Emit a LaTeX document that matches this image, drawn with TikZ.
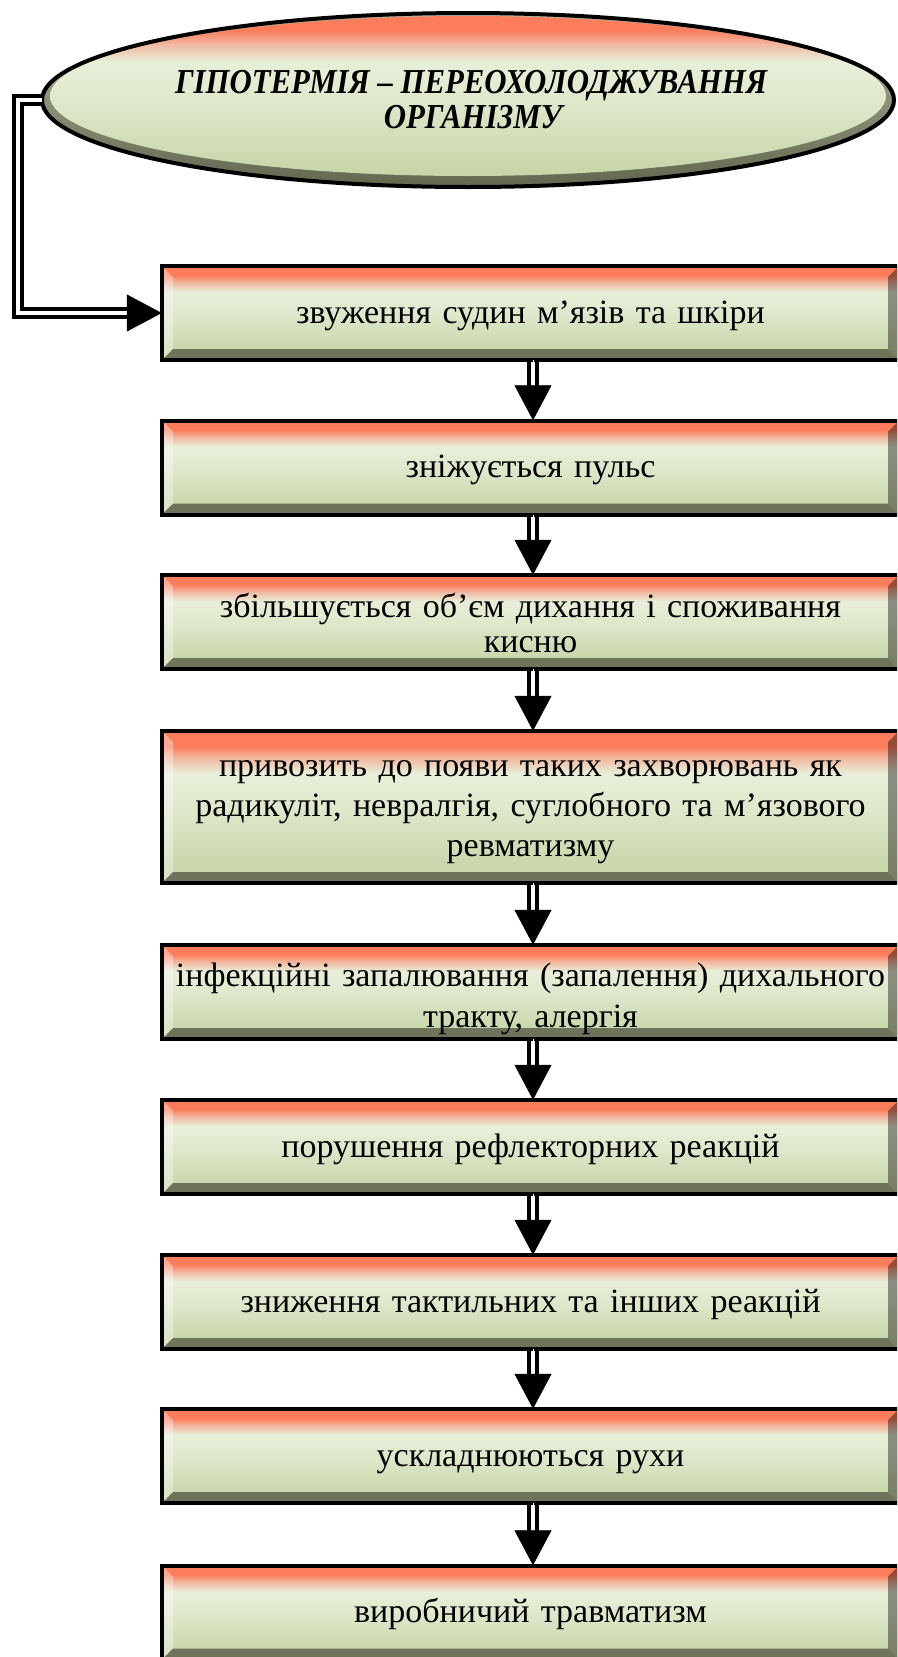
\documentclass[tikz,border=0pt]{standalone}
\usepackage{fontspec}
\setmainfont{Liberation Serif}
\newfontfamily\titlefont[FakeStretch=0.88]{Liberation Serif}
\usetikzlibrary{shapes.geometric,arrows.meta,calc}
\definecolor{salmon}{HTML}{FB7D5B}
\definecolor{pinkish}{HTML}{F2B9A2}
\definecolor{cream}{HTML}{E8EFD9}
\definecolor{creamB}{HTML}{DFE8CC}
\definecolor{greenB}{HTML}{C3D2A2}
\definecolor{botbev}{HTML}{6E735B}
\definecolor{rimtop}{HTML}{B4BBA4}
\definecolor{rimbot}{HTML}{62674F}
\pgfdeclareverticalshading{boxshade}{100bp}{color(0bp)=(greenB); color(25bp)=(greenB); color(50bp)=(creamB); color(61bp)=(cream); color(66bp)=(pinkish); color(70bp)=(salmon); color(75bp)=(salmon); color(100bp)=(salmon)}
\newcommand\boxbevels{%
  \coordinate (pNW) at (path picture bounding box.north west);
  \coordinate (pNE) at (path picture bounding box.north east);
  \coordinate (pSW) at (path picture bounding box.south west);
  \coordinate (pSE) at (path picture bounding box.south east);
  \fill[white, opacity=0.35] (pNW) -- ($(pNW)+(11pt,-11pt)$) -- ($(pSW)+(11pt,11pt)$) -- (pSW) -- cycle;
  \fill[black, opacity=0.4] (pNE) -- ($(pNE)+(-11pt,-11pt)$) -- ($(pSE)+(-11pt,11pt)$) -- (pSE) -- cycle;
  \fill[botbev] (pSW) -- ($(pSW)+(11pt,11pt)$) -- ($(pSE)+(-11pt,11pt)$) -- (pSE) -- cycle;
}
% text with top strut (height #1) and bottom strut (depth #2)
\newcommand\bt[3]{\rule{0pt}{#1pt}#3\rule[-#2pt]{0pt}{0pt}}
\tikzset{
  stepbox/.style={rectangle, minimum width=737pt, minimum height=94pt, inner sep=0pt,
    text width=737pt, align=center, font=\fontsize{34}{40}\selectfont,
    shade, shading=boxshade, path picture={\boxbevels},
    postaction={draw=black, line width=4pt}},
  titleell/.style={ellipse, minimum width=852pt, minimum height=174pt, inner sep=0pt,
    align=center, font=\titlefont\bfseries\itshape\fontsize{35}{35}\selectfont,
    top color=rimtop, bottom color=rimbot,
    path picture={\shade[shading=boxshade] ($(path picture bounding box.center)+(0pt,4pt)$) ellipse [x radius=418pt, y radius=80pt];},
    postaction={draw=black, line width=4pt}},
  dblline/.style={draw=black, double=white, double distance=4pt, line width=4pt, line join=miter},
  vdbl/.style={draw=black, double=white, double distance=4pt, line width=3.6pt},
  headonly/.style={draw=white, line width=0.5pt, -{Triangle[length=35pt, width=37pt, color=black]}},
}
\begin{document}
\begin{tikzpicture}[x=1pt,y=-1pt]
\useasboundingbox (0,0) rectangle (897,1657);
\clip (0,0) rectangle (897,1657);
\node[titleell] (top) at (468,100) {\hspace*{6pt}ГІПОТЕРМІЯ – ПЕРЕОХОЛОДЖУВАННЯ\\\hspace*{10pt}ОРГАНІЗМУ};
\node[stepbox] (b1) at (530.5,313) {\bt{29}{9}{звуження судин м’язів та шкіри}};
\node[stepbox] (b2) at (530.5,467.5) {\bt{29}{9}{зніжується пульс}};
\node[stepbox, font=\fontsize{34}{35}\selectfont] (b3) at (530.5,622) {\bt{35}{9}{збільшується об’єм дихання і споживання\\кисню}};
\node[stepbox, minimum height=152pt] (b4) at (530.5,807) {\bt{28}{10}{привозить до появи таких захворювань як\\радикуліт, невралгія, суглобного та м’язового\\ревматизму}};
\node[stepbox, font=\fontsize{34}{41}\selectfont] (b5) at (530.5,992) {\bt{39}{10}{інфекційні запалювання (запалення) дихального\\тракту, алергія}};
\node[stepbox] (b6) at (530.5,1147) {\bt{29}{9}{порушення рефлекторних реакцій}};
\node[stepbox] (b7) at (530.5,1302) {\bt{29}{9}{зниження тактильних та інших реакцій}};
\node[stepbox] (b8) at (530.5,1456) {\bt{29}{9}{ускладнюються рухи}};
\node[stepbox] (b9) at (530.5,1612.5) {\bt{29}{9}{виробничий травматизм}};
\draw[dblline, shorten >=25pt] (top.west) -- ++(-24,0) |- (b1.west);
\draw[headonly] (top.west) -- ++(-24,0) |- (b1.west);
\foreach \a/\b in {b1/b2,b2/b3,b3/b4,b4/b5,b5/b6,b6/b7,b7/b8,b8/b9}{
  \draw[vdbl, shorten <=2pt, shorten >=25pt] ([xshift=2.5pt]\a.south) -- ([xshift=2.5pt]\b.north);
  \draw[headonly] ([xshift=2.5pt]\a.south) -- ([xshift=2.5pt]\b.north);
}
\end{tikzpicture}
\end{document}
